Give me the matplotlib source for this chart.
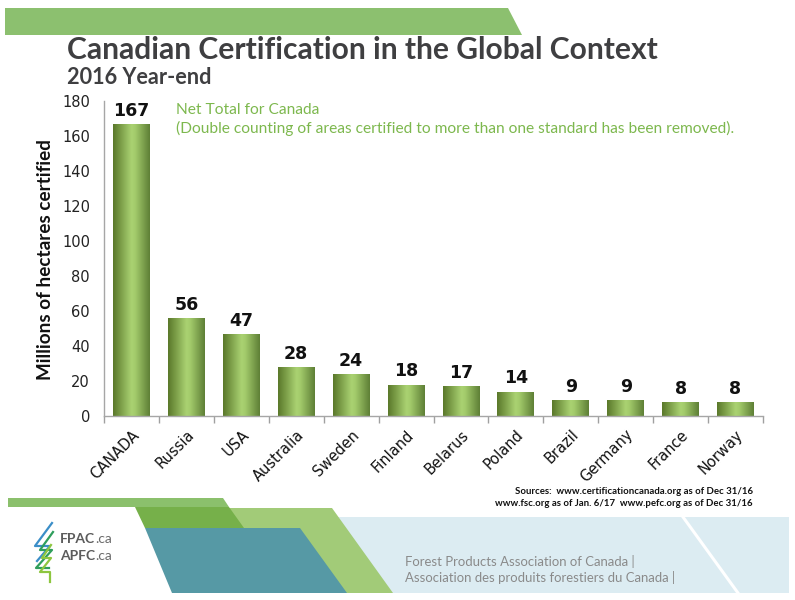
import numpy as np
import matplotlib
matplotlib.use("Agg")
import matplotlib.pyplot as plt
from matplotlib.colors import LinearSegmentedColormap
from matplotlib.patches import Polygon

# ---- data ----
countries = ["CANADA", "Russia", "USA", "Australia", "Sweden", "Finland",
             "Belarus", "Poland", "Brazil", "Germany", "France", "Norway"]
values = [167, 56, 47, 28, 24, 18, 17, 14, 9, 9, 8, 8]
yticks = [0, 20, 40, 60, 80, 100, 120, 140, 160, 180]

title = "Canadian Certification in the Global Context"
subtitle = "2016 Year-end"
ylabel = "Millions of hectares certified"
note1 = "Net Total for Canada"
note2 = "(Double counting of areas certified to more than one standard has been removed)."
src1 = "Sources:  www.certificationcanada.org as of Dec 31/16"
src2 = "www.fsc.org as of Jan. 6/17  www.pefc.org as of Dec 31/16"
foot1 = "Forest Products Association of Canada |"
foot2 = "Association des produits forestiers du Canada |"

W, H = 795, 600
fig = plt.figure(figsize=(W / 100, H / 100), dpi=100)
fig.patch.set_facecolor("white")

# background (pixel coordinates)
bg = fig.add_axes([0, 0, 1, 1], zorder=0)
bg.set_xlim(0, W)
bg.set_ylim(H, 0)
bg.axis("off")

def poly(pts, color, z=1):
    bg.add_patch(Polygon(pts, closed=True, facecolor=color, edgecolor="none", zorder=z))

# top banner
poly([(5, 8), (508, 8), (522, 35), (5, 35)], "#8cc06f")
# bottom decorations
poly([(330, 517), (789, 517), (789, 593), (330, 593)], "#dcecf2")
bg.plot([683, 738], [517, 593], color="white", lw=2.2, zorder=1.5)
poly([(226, 508), (332, 508), (393, 593), (290, 593)], "#a2cb78", 2)
poly([(8, 498), (223, 498), (229, 507), (8, 507)], "#8bc06c", 2)
poly([(135, 507), (229, 507), (244, 528), (145, 528)], "#76b04a", 3)
poly([(145, 528), (300, 528), (347, 593), (172, 593)], "#5699a5", 4)

# logo strokes
bg.plot([52, 35, 50, 37], [523, 546, 546, 561], color="#3b8ec8", lw=1.6, zorder=5)
bg.plot([53, 40, 52, 36, 49], [532, 550, 550, 568, 568], color="#2f9e5c", lw=1.6, zorder=5)
bg.plot([51, 42, 51, 40, 50, 50], [545, 558, 558, 572, 572, 582], color="#8dc63f", lw=1.6, zorder=5)

renderer = fig.canvas.get_renderer()

def fit(t, target, axis="w"):
    bb = t.get_window_extent(renderer)
    cur = bb.width if axis == "w" else bb.height
    t.set_fontsize(t.get_fontsize() * target / cur)
    return t

t = bg.text(67, 50, title, fontsize=22, fontweight="bold", color="#3f3f41",
            family="Lato", va="center", ha="left")
fit(t, 590)
t = bg.text(67, 77, subtitle, fontsize=14, fontweight="bold", color="#3f3f41",
            family="Lato", va="center", ha="left")
fit(t, 145)

green = "#7db84e"
t2 = bg.text(176, 128, note2, fontsize=11, color=green, family="Lato",
             va="center", ha="left")
fit(t2, 559)
bg.text(176, 110, note1, fontsize=t2.get_fontsize(), color=green, family="Lato",
        va="center", ha="left")

s2 = bg.text(753, 503, src2, fontsize=8, fontweight="bold", color="#111111",
             family="Lato", va="center", ha="right")
fit(s2, 258)
bg.text(753, 491, src1, fontsize=s2.get_fontsize(), fontweight="bold", color="#111111",
        family="Lato", va="center", ha="right")

f2 = bg.text(405, 577, foot2, fontsize=10, color="#8a8a8a", family="Lato",
             va="center", ha="left")
fit(f2, 272)
bg.text(405, 562, foot1, fontsize=f2.get_fontsize(), color="#8a8a8a", family="Lato",
        va="center", ha="left", zorder=6)
f2.set_zorder(6)

for yy, lab in [(539, "FPAC"), (556, "APFC")]:
    tl = bg.text(60, yy, lab, fontsize=10, fontweight="bold", color="#5c5c5c",
                 family="Lato", va="center", ha="left", zorder=6)
    bg.annotate(".ca", xy=(1, 0.5), xycoords=tl, fontsize=10, color="#6a6a6a",
                family="Lato", va="center", ha="left", zorder=6)

yl = bg.text(46, 260, ylabel, rotation=90, fontsize=11, fontweight="bold",
             color="#111111", family="Lato", va="center", ha="center")
fit(yl, 240, axis="h")

# main axes
left, right = 104 / W, 763 / W
bottom, top = 1 - 416 / H, 1 - 101 / H
ax = fig.add_axes([left, bottom, right - left, top - bottom], zorder=2)
ax.set_facecolor("none")

x = np.arange(len(countries))
bars = ax.bar(x, values, width=0.67, color="none", edgecolor="none", zorder=2)

cmap = LinearSegmentedColormap.from_list(
    "bar", [(0, "#5a782a"), (0.5, "#aad272"), (0.6, "#a4cc6c"), (1, "#5e7f36")])
grad = np.linspace(0, 1, 128).reshape(1, -1)
for p in bars:
    x0, w, h = p.get_x(), p.get_width(), p.get_height()
    im = ax.imshow(grad, extent=[x0, x0 + w, 0, h], cmap=cmap, aspect="auto",
                   zorder=2, interpolation="bicubic")
    im.set_clip_path(p)

for xi, v in zip(x, values):
    ax.annotate(str(v), xy=(xi, v), xytext=(0, 3), textcoords="offset points",
                ha="center", va="bottom", fontsize=12.5, fontweight="bold",
                color="#111111", family="DejaVu Sans")

ax.set_xlim(-0.5, len(countries) - 0.5)
ax.set_ylim(0, 180)
ax.set_yticks(yticks)
ax.set_yticklabels([str(v) for v in yticks], fontsize=10.5, color="#222222",
                   family="DejaVu Sans")
ax.tick_params(axis="y", length=0, pad=10)

ax.set_xticks(x)
ax.set_xticklabels(countries, rotation=45, ha="right", rotation_mode="anchor",
                   fontsize=10.5, color="#111111", family="DejaVu Sans")
ax.tick_params(axis="x", which="major", length=0, pad=8)
ax.set_xticks(np.arange(-0.5, len(countries), 1.0), minor=True)
ax.tick_params(axis="x", which="minor", length=5, color="#a0a0a0", width=1)

for s in ["top", "right"]:
    ax.spines[s].set_visible(False)
for s in ["left", "bottom"]:
    ax.spines[s].set_color("#a6a6a6")
    ax.spines[s].set_linewidth(1)

fig.savefig("out.png", dpi=100, facecolor="white")
